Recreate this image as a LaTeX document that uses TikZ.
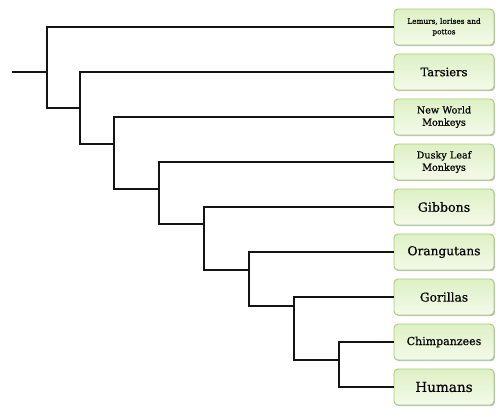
\documentclass[tikz,border=0pt]{standalone}
\usepackage{fontspec}
\setmainfont{DejaVu Serif}
\newfontfamily\leaffont[FakeBold=0.5]{DejaVu Serif}
\usetikzlibrary{shadows}
\definecolor{boxborder}{RGB}{165,204,118}
\definecolor{boxtop}{RGB}{222,240,196}
\definecolor{boxbot}{RGB}{244,250,234}
\definecolor{linecol}{RGB}{20,20,20}
\tikzset{
  leaf/.style={draw=boxborder, line width=0.9pt, rounded corners=4pt,
    top color=boxtop, bottom color=boxbot, minimum width=100pt,
    minimum height=36pt, inner sep=1pt, align=center, text width=96pt,
    drop shadow={shadow xshift=1pt, shadow yshift=-1.2pt, opacity=0.25, fill=black}},
  branch/.style={draw=linecol, line width=1.6pt, line cap=rect}
}
\begin{document}
\begin{tikzpicture}[x=1pt, y=-1pt]
\useasboundingbox (0,0) rectangle (502,416);
% leaves
\node[leaf, font=\leaffont\fontsize{7.3}{10.5}\selectfont] (lem) at (444,27) {Lemurs, lorises and\\pottos};
\node[leaf, font=\leaffont\fontsize{11.5}{14}\selectfont] (tar) at (444,72) {Tarsiers};
\node[leaf, font=\leaffont\fontsize{9.6}{12.3}\selectfont] (nwm) at (444,117) {New World\\Monkeys};
\node[leaf, font=\leaffont\fontsize{9.6}{12.3}\selectfont] (dlm) at (444,162) {Dusky Leaf\\Monkeys};
\node[leaf, font=\leaffont\fontsize{12.6}{15}\selectfont] (gib) at (444,207) {Gibbons};
\node[leaf, font=\leaffont\fontsize{12.2}{15}\selectfont] (ora) at (444,252) {Orangutans};
\node[leaf, font=\leaffont\fontsize{12.2}{15}\selectfont] (gor) at (444,297) {Gorillas};
\node[leaf, font=\leaffont\fontsize{11}{14}\selectfont] (chi) at (444,342) {Chimpanzees};
\node[leaf, font=\leaffont\fontsize{13.6}{16}\selectfont] (hum) at (444,387) {Humans};
% internal nodes
\coordinate (root) at (13,72);
\coordinate (n1) at (47,72);
\coordinate (n2) at (80,108);
\coordinate (n3) at (114,144);
\coordinate (n4) at (159,189);
\coordinate (n5) at (204,224);
\coordinate (n6) at (249,270);
\coordinate (n7) at (294,306);
\coordinate (n8) at (339,360);
% branches
\draw[branch] (root) -- (n1);
\draw[branch] (lem.west) -| (n1) |- (n2);
\draw[branch] (tar.west) -| (n2) |- (n3);
\draw[branch] (nwm.west) -| (n3) |- (n4);
\draw[branch] (dlm.west) -| (n4) |- (n5);
\draw[branch] (gib.west) -| (n5) |- (n6);
\draw[branch] (ora.west) -| (n6) |- (n7);
\draw[branch] (gor.west) -| (n7) |- (n8);
\draw[branch] (chi.west) -| (n8) |- (hum.west);
\end{tikzpicture}
\end{document}
